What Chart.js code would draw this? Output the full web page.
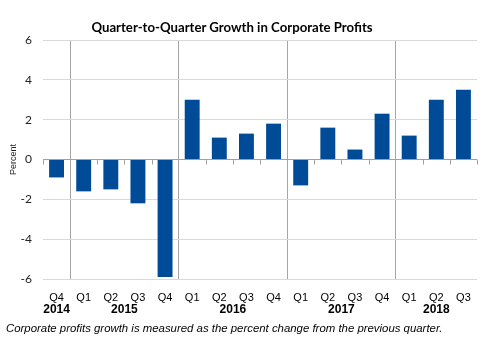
<!DOCTYPE html>
<html>
<head>
<meta charset="utf-8">
<script src="https://cdn.jsdelivr.net/npm/chart.js@4"></script>
<style>
  body { margin: 0; background: #fff; }
  #wrap { position: relative; width: 503px; height: 353px; }
  #title { position: absolute; left: 0; width: 464px; top: 19px; text-align: center;
           font: bold 13.2px Lato, "Open Sans", sans-serif; color: #000; }
  #note { position: absolute; left: 6px; top: 322px; font: italic 11.4px "Liberation Sans", Arial, sans-serif; color: #000; }
</style>
</head>
<body>
<div id="wrap">
  <canvas id="myChart" width="503" height="353"></canvas>
  <div id="title">Quarter-to-Quarter Growth in Corporate Profits</div>
  <div id="note">Corporate profits growth is measured as the percent change from the previous quarter.</div>
</div>
<script>
var quarters = ['Q4','Q1','Q2','Q3','Q4','Q1','Q2','Q3','Q4','Q1','Q2','Q3','Q4','Q1','Q2','Q3'];
var growth = [-0.9, -1.6, -1.5, -2.2, -5.9, 3.0, 1.1, 1.3, 1.8, -1.3, 1.6, 0.5, 2.3, 1.2, 3.0, 3.5];
var years = ['2014', '2015', '2016', '2017', '2018'];
var yearFirst = [0, 1, 5, 9, 13];
var yearLast = [0, 4, 8, 12, 15];

// year labels under the quarters + small tick marks on the zero line
const extras = {
  id: 'extras',
  afterDraw(chart) {
    const ctx = chart.ctx;
    const x = chart.scales.x;
    const y = chart.scales.y;
    const y0 = y.getPixelForValue(0);
    const half = (x.getPixelForValue(1) - x.getPixelForValue(0)) / 2;
    ctx.save();
    ctx.strokeStyle = '#a0a0a0';
    ctx.lineWidth = 1;
    for (let i = 0; i <= quarters.length; i++) {
      if (yearFirst.includes(i) && i > 0) continue;
      const px = Math.round(x.getPixelForValue(0) - half + i * half * 2) + 0.5;
      ctx.beginPath();
      ctx.moveTo(px, y0);
      ctx.lineTo(px, y0 + 5);
      ctx.stroke();
    }
    ctx.fillStyle = '#000';
    ctx.font = 'bold 12px "Liberation Sans", Arial, sans-serif';
    ctx.textAlign = 'center';
    ctx.textBaseline = 'middle';
    years.forEach((yr, k) => {
      const cx = (x.getPixelForValue(yearFirst[k]) + x.getPixelForValue(yearLast[k])) / 2;
      ctx.fillText(yr, cx, 310);
    });
    ctx.restore();
  }
};

const data = {
  labels: quarters,
  datasets: [{
    label: 'Growth',
    backgroundColor: '#004b98',
    data: growth,
    barPercentage: 0.55,
    categoryPercentage: 1
  }]
};

const config = {
  type: 'bar',
  data: data,
  options: {
    responsive: false,
    animation: false,
    layout: { padding: { left: 8, right: 26, top: 40, bottom: 0 } },
    plugins: { legend: { display: false }, tooltip: { enabled: false } },
    scales: {
      x: {
        afterFit: (s) => { s.height = 353 - 40 - 239; },
        border: { display: false },
        grid: {
          offset: true,
          drawTicks: false,
          color: (c) => (yearFirst.includes(c.index) && c.index > 0) ? '#a6a6a6' : 'rgba(0,0,0,0)'
        },
        ticks: {
          padding: 12,
          color: '#000',
          font: { family: '"Liberation Sans", Arial, sans-serif', size: 11 },
          maxRotation: 0,
          autoSkip: false
        }
      },
      y: {
        min: -6,
        max: 6,
        afterFit: (s) => { s.width = 35; },
        border: { display: false },
        grid: {
          drawTicks: false,
          color: (c) => c.tick && c.tick.value === 0 ? '#a0a0a0' : '#d9d9d9'
        },
        ticks: {
          stepSize: 2,
          padding: 11,
          color: '#222',
          font: { family: 'Lato, "Open Sans", sans-serif', size: 12 }
        },
        title: {
          display: true,
          text: 'Percent',
          padding: 0,
          color: '#222',
          font: { family: '"Liberation Sans", Arial, sans-serif', size: 9 }
        }
      }
    }
  },
  plugins: [extras]
};

const myChart = new Chart(document.getElementById('myChart'), config);
</script>
</body>
</html>
